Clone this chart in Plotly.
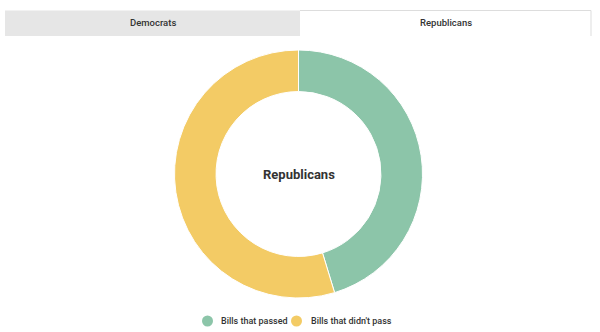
import plotly.graph_objects as go

labels = ["Bills that passed", "Bills that didn't pass"]
values = [45.3, 54.7]
colors = ["#8CC5A9", "#F3CB65"]
tabs = ["Democrats", "Republicans"]
center_label = "Republicans"

W, H = 600, 332

def px(x):
    return x / W

def py(y):
    return 1 - y / H

fig = go.Figure()
fig.add_trace(go.Pie(
    labels=labels, values=values, hole=0.665, sort=False,
    direction="clockwise", rotation=0,
    marker=dict(colors=colors, line=dict(color="white", width=1)),
    textinfo="none", hoverinfo="label+percent", showlegend=False,
    domain=dict(x=[px(174.5), px(422.5)], y=[py(298), py(50)]),
))

shapes = [
    dict(type="rect", xref="paper", yref="paper",
         x0=px(5), x1=px(300), y0=py(36), y1=py(10.5),
         fillcolor="#E6E6E6", line=dict(width=0), layer="below"),
    dict(type="line", xref="paper", yref="paper",
         x0=px(300), x1=px(591), y0=py(10.5), y1=py(10.5),
         line=dict(color="#DDDDDD", width=1)),
    dict(type="line", xref="paper", yref="paper",
         x0=px(591), x1=px(591), y0=py(10.5), y1=py(36),
         line=dict(color="#DDDDDD", width=1)),
]

annotations = [
    dict(text=tabs[0], x=px(152.5), y=py(23), xanchor="center", yanchor="middle",
         xref="paper", yref="paper", showarrow=False,
         font=dict(family="Roboto", size=9.5, color="#333333", weight=500)),
    dict(text=tabs[1], x=px(446), y=py(23), xanchor="center", yanchor="middle",
         xref="paper", yref="paper", showarrow=False,
         font=dict(family="Roboto", size=9.5, color="#333333", weight=500)),
    dict(text="<b>" + center_label + "</b>", x=px(298.5), y=py(174),
         xanchor="center", yanchor="middle", xref="paper", yref="paper",
         showarrow=False, font=dict(family="Roboto", size=13, color="#333333")),
]

# custom legend (circle markers + labels)
legend_marker_x = [207.5, 296.5]
legend_text_x = [218.5, 308.5]
legend_y = 321
for lab, col, mx, tx in zip(labels, colors, legend_marker_x, legend_text_x):
    shapes.append(dict(type="circle", xref="paper", yref="paper",
                       x0=px(mx - 5.5), x1=px(mx + 5.5),
                       y0=py(legend_y + 5.5), y1=py(legend_y - 5.5),
                       fillcolor=col, line=dict(width=0)))
    annotations.append(dict(text=lab, x=px(tx), y=py(legend_y), xanchor="left", yanchor="middle",
                            xref="paper", yref="paper", showarrow=False,
                            font=dict(family="Roboto", size=9, color="#333333", weight=500)))

fig.update_layout(
    width=W, height=H, margin=dict(l=0, r=0, t=0, b=0),
    paper_bgcolor="white", plot_bgcolor="white",
    font=dict(family="Roboto", size=11, color="#444444"),
    shapes=shapes, annotations=annotations, showlegend=False,
)

fig.write_html("out.html")
